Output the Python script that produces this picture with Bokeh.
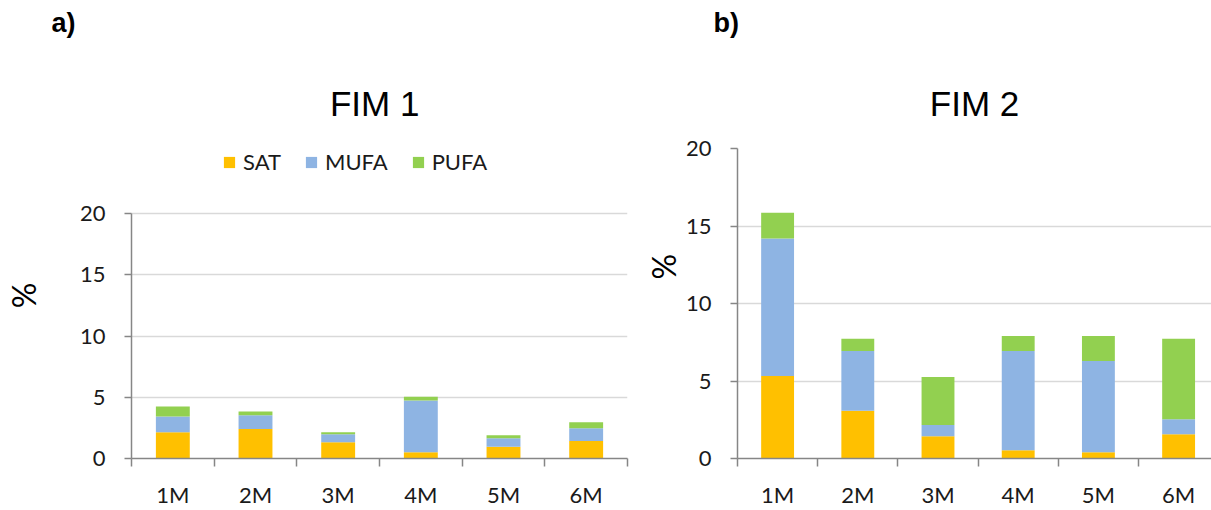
from bokeh.plotting import figure
from bokeh.models import (ColumnDataSource, Range1d, FixedTicker, Legend, LegendItem, Title)
from bokeh.layouts import row
from bokeh.embed import file_html
from bokeh.resources import INLINE

categories = ["1M", "2M", "3M", "4M", "5M", "6M"]
series_names = ["SAT", "MUFA", "PUFA"]
series_colors = ["#FFC000", "#8EB4E3", "#92D050"]

fim1_sat = [2.14, 2.41, 1.32, 0.51, 0.95, 1.43]
fim1_mufa = [1.29, 1.13, 0.65, 4.22, 0.70, 1.03]
fim1_pufa = [0.81, 0.30, 0.17, 0.32, 0.24, 0.49]

fim2_sat = [5.32, 3.08, 1.44, 0.54, 0.41, 1.57]
fim2_mufa = [8.88, 3.86, 0.72, 6.40, 5.88, 0.97]
fim2_pufa = [1.66, 0.78, 3.10, 0.97, 1.62, 5.18]

y_ticks = [0, 5, 10, 15, 20]

TICK_FONT = "Lato"
TITLE_FONT = "Liberation Sans"
AXIS_COLOR = "#868686"
GRID_COLOR = "#D9D9D9"
TEXT_COLOR = "#1a1a1a"
NBSP = "\u00a0"


def make_panel(title, letter, sat, mufa, pufa, width, borders, x_end, y_end,
               title_pad, letter_offset, pct_pad, pct_standoff, with_legend):
    n = len(categories)
    xs = list(range(1, n + 1))
    src = ColumnDataSource(dict(x=xs, SAT=sat, MUFA=mufa, PUFA=pufa))
    p = figure(width=width, height=510, output_backend="svg", toolbar_location=None,
               title=None,
               x_range=Range1d(0.5, x_end), y_range=Range1d(0, y_end),
               min_border_left=borders[0], min_border_right=borders[1],
               min_border_top=borders[2], min_border_bottom=borders[3])
    p.outline_line_color = None
    p.background_fill_color = "white"
    p.border_fill_color = "white"
    rs = p.vbar_stack(series_names, x="x", width=0.41, color=series_colors,
                      line_color=None, source=src)

    p.xgrid.visible = False
    p.ygrid.ticker = FixedTicker(ticks=y_ticks[1:])
    p.ygrid.grid_line_color = GRID_COLOR
    p.ygrid.grid_line_width = 1.5

    xa = p.xaxis[0]
    xa.ticker = FixedTicker(ticks=xs, minor_ticks=[v - 0.5 for v in xs] + [xs[-1] + 0.5])
    xa.major_label_overrides = {v: c for v, c in zip(xs, categories)}
    xa.major_tick_line_color = None
    xa.major_tick_out = 8
    xa.major_tick_in = 0
    xa.minor_tick_out = 8
    xa.minor_tick_in = 0
    xa.minor_tick_line_color = AXIS_COLOR
    xa.minor_tick_line_width = 1.5
    xa.axis_line_color = AXIS_COLOR
    xa.axis_line_width = 1.5
    xa.major_label_standoff = 14
    xa.major_label_text_font = TICK_FONT
    xa.major_label_text_font_size = "22px"
    xa.major_label_text_color = TEXT_COLOR

    ya = p.yaxis[0]
    ya.ticker = FixedTicker(ticks=y_ticks)
    ya.bounds = (y_ticks[0], y_ticks[-1])
    ya.minor_tick_line_color = None
    ya.major_tick_out = 7
    ya.major_tick_in = 0
    ya.major_tick_line_color = AXIS_COLOR
    ya.major_tick_line_width = 1.5
    ya.axis_line_color = AXIS_COLOR
    ya.axis_line_width = 1.5
    ya.major_label_standoff = 19
    ya.major_label_text_font = TICK_FONT
    ya.major_label_text_font_size = "22px"
    ya.major_label_text_color = TEXT_COLOR
    ya.axis_label = NBSP * pct_pad + "%"
    ya.axis_label_text_font = TICK_FONT
    ya.axis_label_text_font_size = "32px"
    ya.axis_label_text_font_style = "normal"
    ya.axis_label_text_color = "black"
    ya.axis_label_standoff = pct_standoff

    p.add_layout(Title(text=title + NBSP * title_pad, align="center", text_font=TITLE_FONT,
                       text_font_size="35px", text_font_style="normal",
                       text_color="black", standoff=52), "above")
    # a trailing blank line lifts the panel letter within its slot
    p.add_layout(Title(text=letter + "\n" + NBSP, align="left", offset=letter_offset,
                       text_font=TITLE_FONT, text_font_size="27px",
                       text_font_style="bold", text_color="black",
                       text_line_height=0.45, standoff=9), "above")

    if with_legend:
        items = [LegendItem(label=nm, renderers=[r]) for nm, r in zip(series_names, rs)]
        lg = Legend(items=items, orientation="horizontal", location=(91, 283),
                    padding=0, margin=0, spacing=23, label_standoff=7,
                    glyph_width=14, glyph_height=14, border_line_color=None,
                    background_fill_alpha=0, label_text_font=TICK_FONT,
                    label_text_font_size="22px", label_text_color=TEXT_COLOR)
        p.add_layout(lg, "center")
    return p


# panel a: 0 at y=458 and 20 at y=213 with a frame from y=148 to 458
p1 = make_panel("FIM 1", "a)", fim1_sat, fim1_mufa, fim1_pufa,
                width=640, borders=(131, 13, 148, 52), x_end=6.5,
                y_end=20 * 310 / 245, title_pad=1, letter_offset=-80,
                pct_pad=2, pct_standoff=34, with_legend=True)
p2 = make_panel("FIM 2", "b)", fim2_sat, fim2_mufa, fim2_pufa,
                width=571, borders=(97, 0, 148, 52), x_end=6.41,
                y_end=20, title_pad=0, letter_offset=-24,
                pct_pad=9, pct_standoff=0, with_legend=False)

layout = row(p1, p2)
open("out.html", "w").write(file_html(layout, INLINE))
